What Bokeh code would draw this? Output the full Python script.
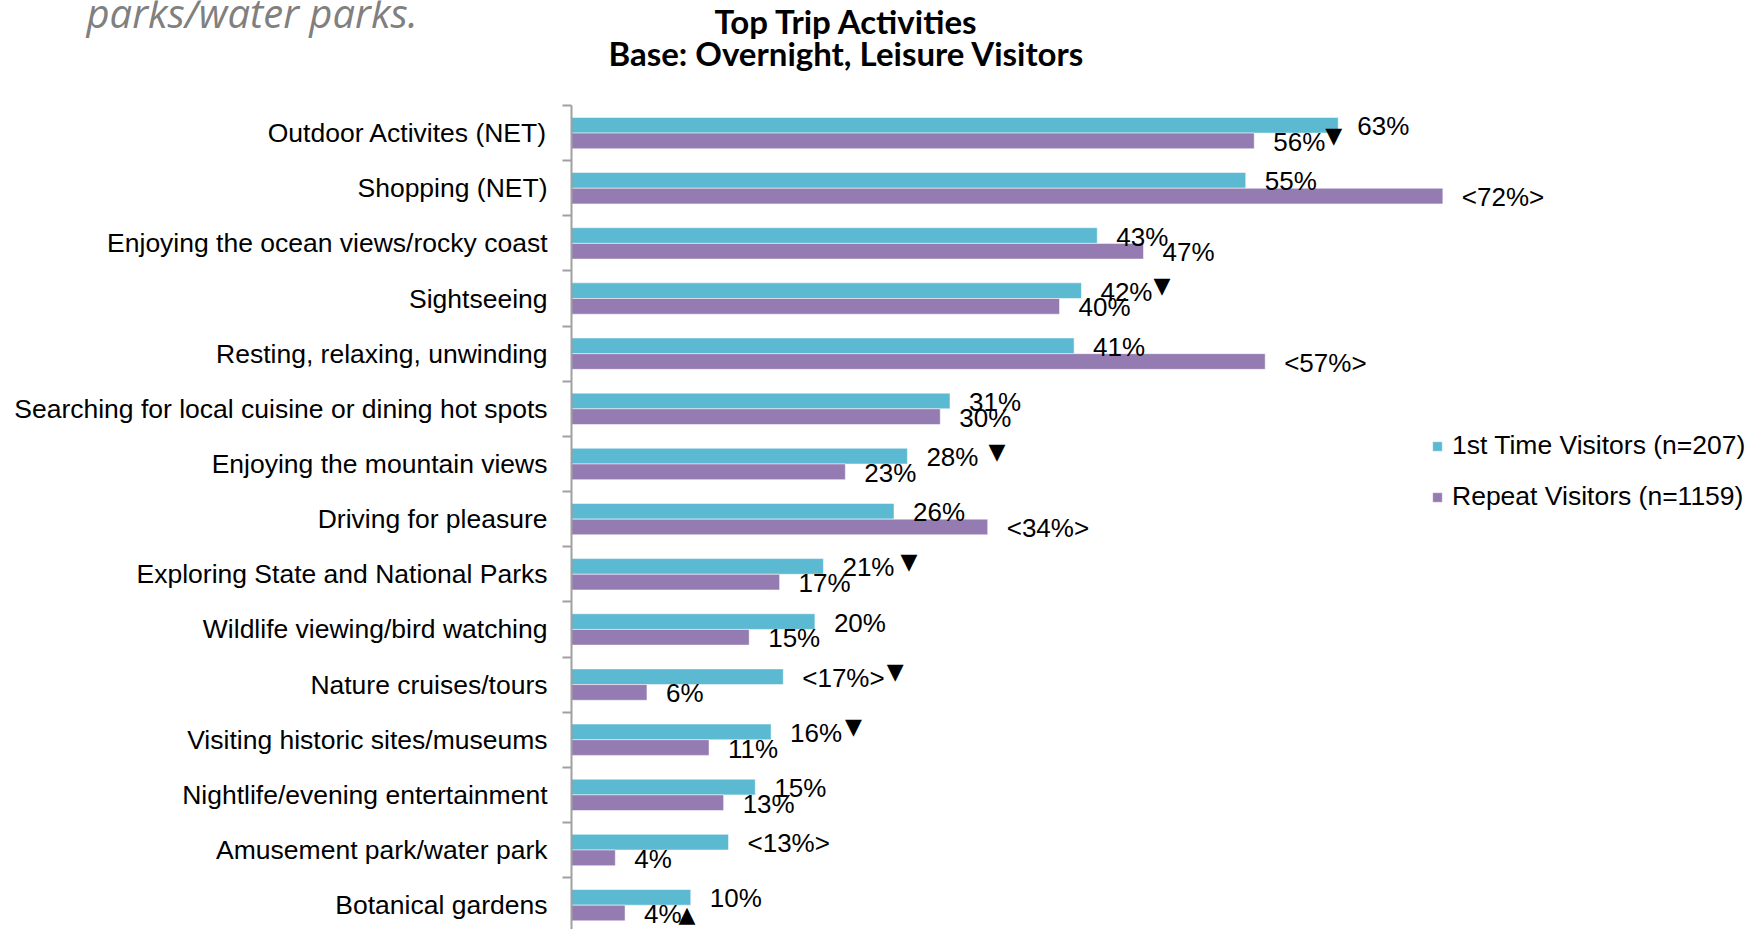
from bokeh.plotting import figure
from bokeh.layouts import column
from bokeh.models import (ColumnDataSource, Range1d, FixedTicker, Legend, LegendItem)
from bokeh.transform import dodge
from bokeh.core.properties import value
from bokeh.embed import file_html
from bokeh.resources import INLINE

# ---------------- data ----------------
categories = [
    "Outdoor Activites (NET)",
    "Shopping (NET)",
    "Enjoying the ocean views/rocky coast",
    "Sightseeing",
    "Resting, relaxing, unwinding",
    "Searching for local cuisine or dining hot spots",
    "Enjoying the mountain views",
    "Driving for pleasure",
    "Exploring State and National Parks",
    "Wildlife viewing/bird watching",
    "Nature cruises/tours",
    "Visiting historic sites/museums",
    "Nightlife/evening entertainment",
    "Amusement park/water park",
    "Botanical gardens",
]
first_time = [63.0, 55.4, 43.2, 41.9, 41.3, 31.1, 27.6, 26.5, 20.7, 20.0, 17.4, 16.4, 15.1, 12.9, 9.8]
repeat = [56.1, 71.6, 47.0, 40.1, 57.0, 30.3, 22.5, 34.2, 17.1, 14.6, 6.2, 11.3, 12.5, 3.6, 4.4]
first_labels = ["63%", "55%", "43%", "42%", "41%", "31%", "28%", "26%", "21%", "20%",
                "<17%>", "16%", "15%", "<13%>", "10%"]
repeat_labels = ["56%", "<72%>", "47%", "40%", "<57%>", "30%", "23%", "<34%>", "17%", "15%",
                 "6%", "11%", "13%", "4%", "4%"]
first_marks = ["", "", "", "▼", "", "", "▼", "", "▼", "", "▼", "▼", "", "", ""]
repeat_marks = ["▼", "", "", "", "", "", "", "", "", "", "", "", "", "", "▲"]
series_names = ["1st Time Visitors (n=207)", "Repeat Visitors (n=1159)"]
title_lines = ["Top Trip Activities", "Base: Overnight, Leisure Visitors"]
note_text = ["parks/water parks."]

# ---------------- style ----------------
CYAN = "#5bb9d1"
PURPLE = "#947bb1"
AXIS_GREY = "#a0a0a0"
FONT = "Liberation Sans"
LABEL_FS = 26
LABEL_DX = 19
# small nudges of the significance markers after their label (px)
first_gap = [0, 0, 0, 1, 0, 0, 10, 0, 6, 0, 2, 3, 0, 0, 0]
repeat_gap = [0, 0, 0, 0, 0, 0, 0, 0, 0, 0, 0, 0, 0, 0, -3]

ARIAL = {str(d): 0.556 for d in range(10)}
ARIAL.update({"%": 0.889, "<": 0.584, ">": 0.584, " ": 0.278})


def text_w(s):
    return sum(ARIAL.get(c, 0.556) for c in s) * LABEL_FS


idx = list(range(len(categories)))
n = len(categories)

W = 1760
HEADER_H = 100
MAIN_H = 929 - HEADER_H
frame_left = 571
frame_top = 5
px_per_pct = 12.17
x_max = (W - frame_left) / px_per_pct
row_px = 55.15
y_bottom = -0.5 + (MAIN_H - frame_top) / row_px

# ---------------- header (title block, page-pixel coordinates) ----------------
hdr = figure(width=W, height=HEADER_H, output_backend="svg", toolbar_location=None,
             x_range=Range1d(0, W), y_range=Range1d(HEADER_H, 0),
             x_axis_location=None, y_axis_location=None, min_border=0)
aligned_off = False
try:
    hdr.frame_align = False
    aligned_off = True
except Exception:
    aligned_off = False
if not aligned_off:
    hdr.x_range = Range1d(frame_left, W)
hdr.title.visible = False
hdr.outline_line_color = None
hdr.xgrid.visible = False
hdr.ygrid.visible = False
BASE_FIX = 13  # renderer places the alphabetic baseline lower than y
hdr.text(x=[846, 846], y=[33 - BASE_FIX, 65 - BASE_FIX], text=title_lines,
         text_align="center", text_baseline="alphabetic", text_font=value("Lato"),
         text_font_style="bold", text_font_size="33px", text_color="black")
hdr.text(x=[86], y=[24.5 - BASE_FIX], text=note_text, text_align="left",
         text_baseline="alphabetic", text_font=value("Open Sans"),
         text_font_style="italic", text_font_size="40px", text_color="#808080")

# ---------------- main chart ----------------
p = figure(width=W, height=MAIN_H, output_backend="svg", toolbar_location=None,
           x_range=Range1d(0, x_max), y_range=Range1d(y_bottom, -0.5),
           x_axis_location=None, min_border_left=frame_left, min_border_right=0,
           min_border_top=frame_top, min_border_bottom=0)
if aligned_off:
    p.frame_align = False
p.title.visible = False
p.outline_line_color = None
p.xgrid.visible = False
p.ygrid.visible = False
p.background_fill_color = "white"

src = ColumnDataSource(dict(idx=idx, first=first_time, repeat=repeat,
                            fl=first_labels, rl=repeat_labels))

OFF = 0.142
BH = 0.284
r1 = p.hbar(y=dodge("idx", -OFF, range=p.y_range), left=0, right="first", height=BH,
            fill_color=CYAN, line_color="white", line_alpha=0.5, line_width=1, source=src)
r2 = p.hbar(y=dodge("idx", OFF, range=p.y_range), left=0, right="repeat", height=BH,
            fill_color=PURPLE, line_color="white", line_alpha=0.5, line_width=1, source=src)

p.text(x="first", y=dodge("idx", -OFF, range=p.y_range), text="fl", source=src,
       x_offset=LABEL_DX, y_offset=1, text_align="left", text_baseline="middle",
       text_font=value(FONT), text_font_size=f"{LABEL_FS}px", text_color="black")
p.text(x="repeat", y=dodge("idx", OFF, range=p.y_range), text="rl", source=src,
       x_offset=LABEL_DX, y_offset=1, text_align="left", text_baseline="middle",
       text_font=value(FONT), text_font_size=f"{LABEL_FS}px", text_color="black")

# significance markers
mx, my, mt, mo, myo = [], [], [], [], []
for i in idx:
    if first_marks[i]:
        mx.append(first_time[i]); my.append(i - OFF); mt.append(first_marks[i])
        mo.append(LABEL_DX + text_w(first_labels[i]) + first_gap[i])
        myo.append(-5 if first_marks[i] == "▼" else 1)
    if repeat_marks[i]:
        mx.append(repeat[i]); my.append(i + OFF); mt.append(repeat_marks[i])
        mo.append(LABEL_DX + text_w(repeat_labels[i]) + repeat_gap[i])
        myo.append(-5 if repeat_marks[i] == "▼" else 1)
msrc = ColumnDataSource(dict(x=mx, y=my, t=mt, xo=mo, yo=myo))
p.text(x="x", y="y", text="t", x_offset="xo", y_offset="yo", source=msrc,
       text_align="left", text_baseline="middle", text_font=value("DejaVu Sans"),
       text_font_size="22px", text_color="black")

# y axis
ax = p.yaxis[0]
ax.ticker = FixedTicker(ticks=idx, minor_ticks=[i - 0.5 for i in range(n)])
ax.major_label_overrides = {i: c for i, c in enumerate(categories)}
ax.major_tick_out = 0
ax.major_tick_in = 0
ax.minor_tick_out = 9
ax.minor_tick_in = 0
ax.axis_line_color = AXIS_GREY
ax.axis_line_width = 2
ax.minor_tick_line_color = AXIS_GREY
ax.minor_tick_line_width = 2
ax.major_label_standoff = 15
ax.major_label_text_font = FONT
ax.major_label_text_font_size = "26.5px"
ax.major_label_text_color = "black"

# legend
legend = Legend(items=[LegendItem(label=series_names[0], renderers=[r1]),
                       LegendItem(label=series_names[1], renderers=[r2])],
                location=(860, 417), orientation="vertical",
                glyph_width=12, glyph_height=12, label_standoff=9,
                label_text_font=FONT, label_text_font_size="26.5px",
                label_text_color="black", label_height=30, spacing=20,
                padding=0, margin=0, border_line_color=None,
                background_fill_alpha=0)
p.add_layout(legend, "center")

layout = column(hdr, p, spacing=0)
open("out.html", "w").write(file_html(layout, INLINE))
